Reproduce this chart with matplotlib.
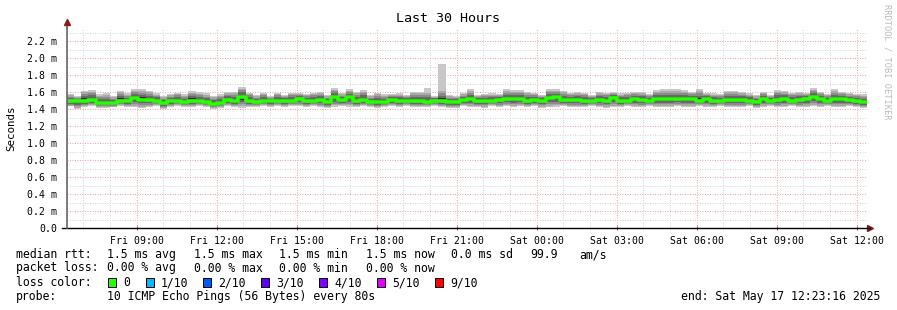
import matplotlib
matplotlib.use("Agg")
import matplotlib.pyplot as plt
import numpy as np

# ---------------- data ----------------
title = "Last 30 Hours"
ylabel = "Seconds"
start_hour = 6 + 23.27 / 60          # Fri 06:23:16 (hours since Fri 00:00)
span_hours = 30.0

tick_hours = [9, 12, 15, 18, 21, 24, 27, 30, 33, 36]
tick_labels = ["Fri 09:00", "Fri 12:00", "Fri 15:00", "Fri 18:00", "Fri 21:00",
               "Sat 00:00", "Sat 03:00", "Sat 06:00", "Sat 09:00", "Sat 12:00"]
minor_hours = [7, 8, 10, 11, 13, 14, 16, 17, 19, 20, 22, 23, 25, 26,
               28, 29, 31, 32, 34, 35]
ytick_vals = [0.0, 0.2, 0.4, 0.6, 0.8, 1.0, 1.2, 1.4, 1.6, 1.8, 2.0, 2.2]
yminor_vals = [0.1, 0.3, 0.5, 0.7, 0.9, 1.1, 1.3, 1.5, 1.7, 1.9, 2.1, 2.3]

# median rtt per step (ms)
median_ms = [
    1.49, 1.49, 1.50, 1.51, 1.47, 1.47, 1.47, 1.50, 1.49, 1.53, 1.51, 1.51, 1.50, 1.47,
    1.49, 1.50, 1.48, 1.50, 1.50, 1.48, 1.46, 1.47, 1.51, 1.49, 1.54, 1.50, 1.48, 1.50,
    1.49, 1.50, 1.50, 1.50, 1.52, 1.50, 1.50, 1.51, 1.48, 1.54, 1.51, 1.54, 1.50, 1.51,
    1.48, 1.48, 1.48, 1.51, 1.50, 1.50, 1.50, 1.50, 1.48, 1.50, 1.50, 1.48, 1.48, 1.51,
    1.52, 1.50, 1.50, 1.50, 1.51, 1.52, 1.52, 1.52, 1.50, 1.51, 1.50, 1.53, 1.54, 1.51,
    1.51, 1.51, 1.50, 1.50, 1.51, 1.50, 1.53, 1.50, 1.50, 1.52, 1.51, 1.50, 1.52, 1.52,
    1.52, 1.52, 1.52, 1.52, 1.50, 1.52, 1.50, 1.50, 1.51, 1.51, 1.51, 1.50, 1.48, 1.52,
    1.50, 1.51, 1.52, 1.50, 1.51, 1.52, 1.54, 1.52, 1.50, 1.52, 1.52, 1.51, 1.50, 1.48,
]
# highest ping per step (ms)
smoke_max_ms = [
    1.576, 1.553, 1.616, 1.624, 1.576, 1.584, 1.553, 1.616, 1.584, 1.631, 1.631, 1.616, 1.584, 1.553,
    1.576, 1.592, 1.576, 1.612, 1.600, 1.584, 1.553, 1.576, 1.604, 1.604, 1.663, 1.592, 1.565, 1.592,
    1.553, 1.592, 1.565, 1.592, 1.584, 1.576, 1.592, 1.604, 1.565, 1.643, 1.584, 1.631, 1.604, 1.624,
    1.565, 1.592, 1.576, 1.576, 1.584, 1.565, 1.604, 1.604, 1.643, 1.553, 1.930, 1.565, 1.553, 1.584,
    1.631, 1.565, 1.576, 1.584, 1.576, 1.631, 1.624, 1.624, 1.604, 1.592, 1.565, 1.631, 1.631, 1.616,
    1.592, 1.604, 1.592, 1.565, 1.604, 1.592, 1.604, 1.584, 1.592, 1.604, 1.604, 1.576, 1.624, 1.631,
    1.631, 1.631, 1.624, 1.604, 1.631, 1.592, 1.584, 1.576, 1.616, 1.616, 1.604, 1.584, 1.565, 1.604,
    1.565, 1.624, 1.616, 1.592, 1.604, 1.584, 1.643, 1.604, 1.576, 1.631, 1.604, 1.584, 1.576, 1.576,
]
# lowest ping per step (ms)
smoke_min_ms = [
    1.43, 1.40, 1.42, 1.43, 1.41, 1.41, 1.42, 1.43, 1.42, 1.42, 1.41, 1.42, 1.43, 1.40,
    1.42, 1.43, 1.42, 1.42, 1.43, 1.42, 1.40, 1.41, 1.43, 1.42, 1.41, 1.42, 1.42, 1.43,
    1.42, 1.43, 1.42, 1.43, 1.43, 1.42, 1.43, 1.42, 1.41, 1.42, 1.43, 1.42, 1.42, 1.43,
    1.42, 1.41, 1.42, 1.43, 1.42, 1.43, 1.42, 1.42, 1.42, 1.43, 1.42, 1.41, 1.41, 1.43,
    1.42, 1.42, 1.41, 1.43, 1.42, 1.43, 1.42, 1.43, 1.42, 1.43, 1.41, 1.42, 1.42, 1.43,
    1.42, 1.42, 1.42, 1.43, 1.42, 1.41, 1.42, 1.42, 1.43, 1.42, 1.42, 1.43, 1.42, 1.42,
    1.42, 1.43, 1.42, 1.42, 1.43, 1.42, 1.42, 1.43, 1.42, 1.42, 1.42, 1.43, 1.41, 1.42,
    1.43, 1.42, 1.42, 1.43, 1.42, 1.42, 1.43, 1.42, 1.43, 1.42, 1.42, 1.43, 1.42, 1.41,
]

loss_labels = ["0", "1/10", "2/10", "3/10", "4/10", "5/10", "9/10"]
loss_colors = ["#26ff00", "#00b8ff", "#0059ff", "#5e00ff", "#7e00ff", "#dd00ff", "#ff0000"]

stats_rtt = ["1.5 ms avg", "1.5 ms max", "1.5 ms min", "1.5 ms now", "0.0 ms sd", "99.9", "am/s"]
stats_loss = ["0.00 % avg", "0.00 % max", "0.00 % min", "0.00 % now"]
probe_text = "10 ICMP Echo Pings (56 Bytes) every 80s"
end_text = "end: Sat May 17 12:23:16 2025"

# ---------------- figure ----------------
W, H = 897, 310
fig = plt.figure(figsize=(W / 100, H / 100), dpi=100)
fig.patch.set_facecolor("white")
mono = "DejaVu Sans Mono"

ax_l, ax_r, ax_t, ax_b = 67, 867, 28, 228
ax = fig.add_axes([ax_l / W, 1 - ax_b / H, (ax_r - ax_l) / W, (ax_b - ax_t) / H])
ax.set_facecolor("white")

n = len(median_ms)
edges = np.linspace(start_hour, start_hour + span_hours, n + 1)
med = np.array(median_ms)
top = np.array(smoke_max_ms)
bot = np.array(smoke_min_ms)

def ext(a):
    return np.append(a, a[-1])

# grid drawn manually (dotted, light)
g_minor = dict(color="#d4d4d4", lw=0.72, ls=(0, (1, 1.5)), zorder=0)
g_major = dict(color="#ff9e9e", lw=0.72, ls=(0, (1, 1.5)), zorder=0.5)
for hx in minor_hours:
    ax.axvline(hx, **g_minor)
for yv in yminor_vals:
    ax.axhline(yv, **g_minor)
for hx in tick_hours:
    ax.axvline(hx, **g_major)
for yv in ytick_vals[1:]:
    ax.axhline(yv, **g_major)

# smoke bands (outer light -> inner dark)
up = np.minimum(top - med, 0.13)
dn = med - bot
bands = [(1.0, "#c8c8c8"), (0.82, "#a8a8a8"), (0.64, "#8a8a8a"), (0.45, "#686868"), (0.22, "#303030")]
for i, (f, c) in enumerate(bands):
    if i == 0:
        hi, lo = top, bot
    else:
        hi, lo = med + up * f, med - dn * f
    ax.fill_between(edges, ext(lo), ext(hi), step="post", color=c, lw=0, zorder=2)

ax.step(edges, ext(med), where="post", color="#26ff00", lw=2.6, zorder=3)

ax.set_xlim(start_hour, start_hour + span_hours)
ax.set_ylim(0, 200 / 85)

ax.set_xticks(tick_hours)
ax.set_xticklabels(tick_labels, fontfamily=mono, fontsize=7.1)
ax.set_xticks(minor_hours, minor=True)
ax.set_yticks(ytick_vals)
ax.set_yticklabels([("%.1f" % v) if v == 0 else ("%.1f m" % v) for v in ytick_vals],
                   fontfamily=mono, fontsize=7.1)
ax.tick_params(axis="y", which="both", length=0, pad=7)
ax.tick_params(axis="x", which="major", length=3, direction="inout", color="#cc3333", pad=4)
ax.tick_params(axis="x", which="minor", length=2, direction="inout", color="#ff9999")

for s in ["top", "right"]:
    ax.spines[s].set_visible(False)
ax.spines["left"].set_color("#666666")
ax.spines["left"].set_linewidth(1.2)
ax.spines["bottom"].set_color("#000000")
ax.spines["bottom"].set_linewidth(1.0)
ax.spines["bottom"].set_bounds(start_hour - span_hours * (5 / 800), start_hour + span_hours * (803 / 800))
ax.spines["left"].set_zorder(5)

# axis extensions and arrows
ax.plot([0, 0], [1, 1 + 5 / 200], color="#666666", lw=1.2, transform=ax.transAxes, clip_on=False)
ax.plot([0], [1 + 6 / 200], marker="^", ms=4, color="#8b1a1a", transform=ax.transAxes, clip_on=False)
ax.plot([1 + 3 / 800], [0], marker=">", ms=4, color="#8b1a1a", transform=ax.transAxes, clip_on=False)

# titles
fig.text(448 / W, 1 - 19 / H, title, ha="center", va="center", fontfamily=mono, fontsize=9.6)
fig.text(11 / W, 1 - 128 / H, ylabel, ha="center", va="center", rotation=90, fontfamily=mono, fontsize=7.8)
fig.text(887 / W, 1 - 4 / H, "RRDTOOL / TOBI OETIKER", ha="center", va="top", rotation=270,
         fontfamily=mono, fontsize=6.2, color="#bbbbbb")

# legend rows
fs = 8.3
def put(x, y, s):
    fig.text(x / W, 1 - y / H, s, ha="left", va="center", fontfamily=mono, fontsize=fs)

r1, r2, r3, r4 = 254.5, 268, 282.5, 296.5
put(16, r1, "median rtt:")
for x, s in zip([107, 194, 279, 366, 451, 530, 579], stats_rtt):
    put(x, r1, s)
put(16, r2, "packet loss:")
for x, s in zip([107, 194, 279, 366], stats_loss):
    put(x, r2, s)
put(16, r3, "loss color:")
box_x = [108, 146, 203, 261, 319, 377, 435]
for bx, lab, col in zip(box_x, loss_labels, loss_colors):
    fig.patches.append(plt.Rectangle((bx / W, 1 - (r3 + 4.5) / H), 8 / W, 9 / H,
                                     transform=fig.transFigure, facecolor=col,
                                     edgecolor="black", lw=0.7))
    put(bx + 15, r3, lab)
put(16, r4, "probe:")
put(107, r4, probe_text)
fig.text(880 / W, 1 - r4 / H, end_text, ha="right", va="center", fontfamily=mono, fontsize=fs)

fig.savefig("out.png", dpi=100, facecolor="white")
